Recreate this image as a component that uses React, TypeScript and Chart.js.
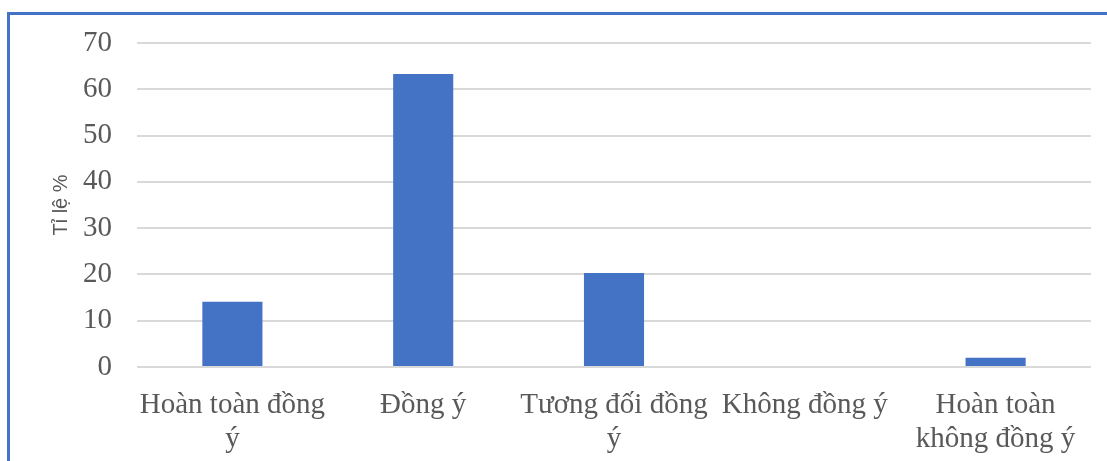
import React, { useEffect, useRef } from "react";
import { Chart, registerables } from "chart.js";

Chart.register(...registerables);

const categories: (string | string[])[] = [
  ["Hoàn toàn đồng", "ý"],
  "Đồng ý",
  ["Tương đối đồng", "ý"],
  "Không đồng ý",
  ["Hoàn toàn", "không đồng ý"],
];
const values: number[] = [14.1, 63.3, 20.3, 0, 2.0];
const yTitle = "Tỉ lệ %";
const yMin = 0;
const yMax = 70;
const yStep = 10;

export default function App() {
  const ref = useRef<HTMLCanvasElement | null>(null);

  useEffect(() => {
    if (!ref.current) return;
    const chart = new Chart(ref.current, {
      type: "bar",
      data: {
        labels: categories,
        datasets: [
          {
            data: values,
            backgroundColor: "#4472c4",
            borderWidth: 0,
            categoryPercentage: 1,
            barPercentage: 0.315,
          },
        ],
      },
      options: {
        animation: false,
        responsive: false,
        maintainAspectRatio: false,
        layout: { padding: { left: 0, right: 16, top: 28, bottom: 0 } },
        plugins: { legend: { display: false }, tooltip: { enabled: false } },
        scales: {
          x: {
            grid: { display: false, drawTicks: false },
            border: { display: false },
            ticks: {
              color: "#595959",
              font: { family: "'Liberation Serif', 'Times New Roman', serif", size: 29, lineHeight: 1.15 },
              padding: 22,
              maxRotation: 0,
              autoSkip: false,
            },
            afterFit: (axis: any) => {
              axis.height = 94;
              axis.paddingLeft = 0;
              axis.paddingRight = 0;
            },
          },
          y: {
            min: yMin,
            max: yMax,
            grid: { color: "#d9d9d9", lineWidth: 2, drawTicks: false },
            border: { display: false },
            ticks: {
              stepSize: yStep,
              color: "#595959",
              font: { family: "'Liberation Serif', 'Times New Roman', serif", size: 29 },
              padding: 25,
            },
            title: {
              display: true,
              text: yTitle,
              color: "#595959",
              font: { family: "'Liberation Sans', Arial, sans-serif", size: 20 },
              padding: { top: 39, bottom: 0 },
            },
            afterFit: (axis: any) => {
              axis.width = 127;
              axis.paddingTop = 0;
              axis.paddingBottom = 0;
            },
          },
        },
      },
    });
    return () => chart.destroy();
  }, []);

  return (
    <div
      style={{
        position: "absolute",
        left: 7,
        top: 12,
        width: 1120,
        height: 470,
        border: "3px solid #4472c4",
        boxSizing: "border-box",
        background: "#fff",
        overflow: "hidden",
      }}
    >
      <canvas ref={ref} width={1097} height={446} style={{ display: "block", width: 1097, height: 446 }} />
    </div>
  );
}
